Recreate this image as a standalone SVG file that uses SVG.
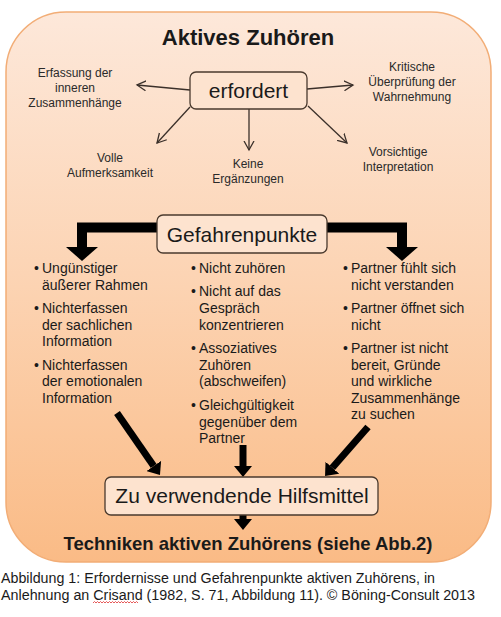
<svg xmlns="http://www.w3.org/2000/svg" width="501" height="617" viewBox="0 0 501 617">
<defs>
<linearGradient id="bg" x1="0" y1="0" x2="0" y2="1">
<stop offset="0" stop-color="#fde8da"/>
<stop offset="0.5" stop-color="#fcd3b2"/>
<stop offset="1" stop-color="#fabb86"/>
</linearGradient>
<marker id="thin" markerUnits="userSpaceOnUse" markerWidth="12" markerHeight="12" refX="9" refY="5" orient="auto" viewBox="0 0 12 10">
<path d="M0,0 L9,5 L0,10" fill="none" stroke="#3b302a" stroke-width="1.3"/>
</marker>
<marker id="big" markerUnits="userSpaceOnUse" markerWidth="14" markerHeight="32" refX="0" refY="16" orient="auto" viewBox="0 0 14 32">
<path d="M0,0 L14,16 L0,32 Z" fill="#000"/>
</marker>
<marker id="mid" markerUnits="userSpaceOnUse" markerWidth="11" markerHeight="18" refX="0" refY="9" orient="auto" viewBox="0 0 11 18">
<path d="M0,0 L11,9 L0,18 Z" fill="#000"/>
</marker>
</defs>
<style>
text{font-family:"Liberation Sans",Arial,sans-serif;fill:#1a1a1a}
.sm{font-size:12px;fill:#2a2a2a;text-anchor:middle}
.bl{font-size:14px}
.box{fill:#fde3cf;stroke:#4a3a2e;stroke-width:1.3}
.big{font-size:21px;text-anchor:middle}
.thin{fill:none;stroke:#3b302a;stroke-width:1.3;marker-end:url(#thin)}
.thick{fill:none;stroke:#000;stroke-width:10;marker-end:url(#big)}
.th2{fill:none;stroke:#000;stroke-width:7;marker-end:url(#mid)}
</style>
<rect width="501" height="617" fill="#fff"/>
<g id="frame">
<rect x="6" y="12" width="485" height="550" rx="60" ry="60" fill="url(#bg)" stroke="#f2ad76" stroke-width="1.5"/>
</g>
<g id="title"><text x="248" y="45" font-size="22" font-weight="bold" text-anchor="middle">Aktives Zuhören</text></g>
<g id="connectors">
<line class="thin" x1="190" y1="90" x2="137" y2="85"/>
<line class="thin" x1="307" y1="89" x2="353" y2="85"/>
<line class="thin" x1="190" y1="107" x2="157" y2="143"/>
<line class="thin" x1="249" y1="109" x2="249" y2="150"/>
<line class="thin" x1="308" y1="106" x2="347" y2="143"/>
<path class="thick" d="M157,227.5 H82 V247"/>
<path class="thick" d="M327,227.5 H402 V247"/>
<line class="th2" x1="117" y1="413" x2="153.7" y2="466"/>
<line class="th2" x1="243" y1="445" x2="243" y2="466"/>
<line class="th2" x1="368" y1="427" x2="332.3" y2="467.7"/>
<line class="th2" x1="243" y1="515" x2="243" y2="519"/>
</g>
<g id="erfordert">
<rect class="box" x="190" y="72" width="117" height="37" rx="6"/>
<text class="big" x="248.5" y="98">erfordert</text>
</g>
<g id="erfassung"><text class="sm" x="75"><tspan x="75" y="77">Erfassung der</tspan><tspan x="75" y="92">inneren</tspan><tspan x="75" y="107">Zusammenhänge</tspan></text></g>
<g id="kritische"><text class="sm" x="412"><tspan x="412" y="71">Kritische</tspan><tspan x="412" y="86">Überprüfung der</tspan><tspan x="412" y="101">Wahrnehmung</tspan></text></g>
<g id="volle"><text class="sm" x="110"><tspan x="110" y="162">Volle</tspan><tspan x="110" y="177">Aufmerksamkeit</tspan></text></g>
<g id="keine"><text class="sm" x="248"><tspan x="248" y="168">Keine</tspan><tspan x="248" y="183">Ergänzungen</tspan></text></g>
<g id="vorsichtige"><text class="sm" x="398"><tspan x="398" y="156">Vorsichtige</tspan><tspan x="398" y="171">Interpretation</tspan></text></g>
<g id="gefahrenpunkte">
<rect class="box" x="157" y="215" width="170" height="38" rx="6"/>
<text class="big" x="242" y="242">Gefahrenpunkte</text>
</g>
<g id="col-left" class="bl">
<text class="bl" x="34" y="273" font-size="10">•</text>
<text class="bl" x="42" y="273">Ungünstiger</text>
<text class="bl" x="42" y="289.5">äußerer Rahmen</text>
<text class="bl" x="34" y="313" font-size="10">•</text>
<text class="bl" x="42" y="313">Nichterfassen</text>
<text class="bl" x="42" y="329.5">der sachlichen</text>
<text class="bl" x="42" y="346">Information</text>
<text class="bl" x="34" y="369.5" font-size="10">•</text>
<text class="bl" x="42" y="369.5">Nichterfassen</text>
<text class="bl" x="42" y="386">der emotionalen</text>
<text class="bl" x="42" y="402.5">Information</text>
</g>
<g id="col-mid">
<text class="bl" x="191" y="273" font-size="10">•</text>
<text class="bl" x="199" y="273">Nicht zuhören</text>
<text class="bl" x="191" y="296" font-size="10">•</text>
<text class="bl" x="199" y="296">Nicht auf das</text>
<text class="bl" x="199" y="313">Gespräch</text>
<text class="bl" x="199" y="329.5">konzentrieren</text>
<text class="bl" x="191" y="353" font-size="10">•</text>
<text class="bl" x="199" y="353">Assoziatives</text>
<text class="bl" x="199" y="369.5">Zuhören</text>
<text class="bl" x="199" y="386">(abschweifen)</text>
<text class="bl" x="191" y="410" font-size="10">•</text>
<text class="bl" x="199" y="410">Gleichgültigkeit</text>
<text class="bl" x="199" y="426.5">gegenüber dem</text>
<text class="bl" x="199" y="443">Partner</text>
</g>
<g id="col-right">
<text class="bl" x="343" y="273" font-size="10">•</text>
<text class="bl" x="351" y="273">Partner fühlt sich</text>
<text class="bl" x="351" y="289.5">nicht verstanden</text>
<text class="bl" x="343" y="313" font-size="10">•</text>
<text class="bl" x="351" y="313">Partner öffnet sich</text>
<text class="bl" x="351" y="329.5">nicht</text>
<text class="bl" x="343" y="353" font-size="10">•</text>
<text class="bl" x="351" y="353">Partner ist nicht</text>
<text class="bl" x="351" y="369.5">bereit, Gründe</text>
<text class="bl" x="351" y="386">und wirkliche</text>
<text class="bl" x="351" y="402.5">Zusammenhänge</text>
<text class="bl" x="351" y="419">zu suchen</text>
</g>
<g id="hilfsmittel">
<rect class="box" x="105" y="477" width="273" height="38" rx="6"/>
<text class="big" x="242" y="503">Zu verwendende Hilfsmittel</text>
</g>
<g id="techniken"><text x="248" y="550" font-size="18.5" font-weight="bold" text-anchor="middle">Techniken aktiven Zuhörens (siehe Abb.2)</text></g>
<g id="caption">
<text x="1" y="583" font-size="14" textLength="434" lengthAdjust="spacingAndGlyphs">Abbildung 1: Erfordernisse und Gefahrenpunkte aktiven Zuhörens, in</text>
<text x="1" y="600" font-size="14" textLength="474" lengthAdjust="spacingAndGlyphs">Anlehnung an Crisand (1982, S. 71, Abbildung 11). © Böning-Consult 2013</text>
<path d="M93,603 l1.5,-1.5 l1.5,1.5 l1.5,-1.5 l1.5,1.5 l1.5,-1.5 l1.5,1.5 l1.5,-1.5 l1.5,1.5 l1.5,-1.5 l1.5,1.5 l1.5,-1.5 l1.5,1.5 l1.5,-1.5 l1.5,1.5 l1.5,-1.5 l1.5,1.5 l1.5,-1.5 l1.5,1.5 l1.5,-1.5 l1.5,1.5 l1.5,-1.5 l1.5,1.5 l1.5,-1.5 l1.5,1.5 l1.5,-1.5 l1.5,1.5 l1.5,-1.5 l1.5,1.5 l1.5,-1.5 l1.5,1.5" fill="none" stroke="#e03030" stroke-width="0.8"/>
</g>
</svg>
